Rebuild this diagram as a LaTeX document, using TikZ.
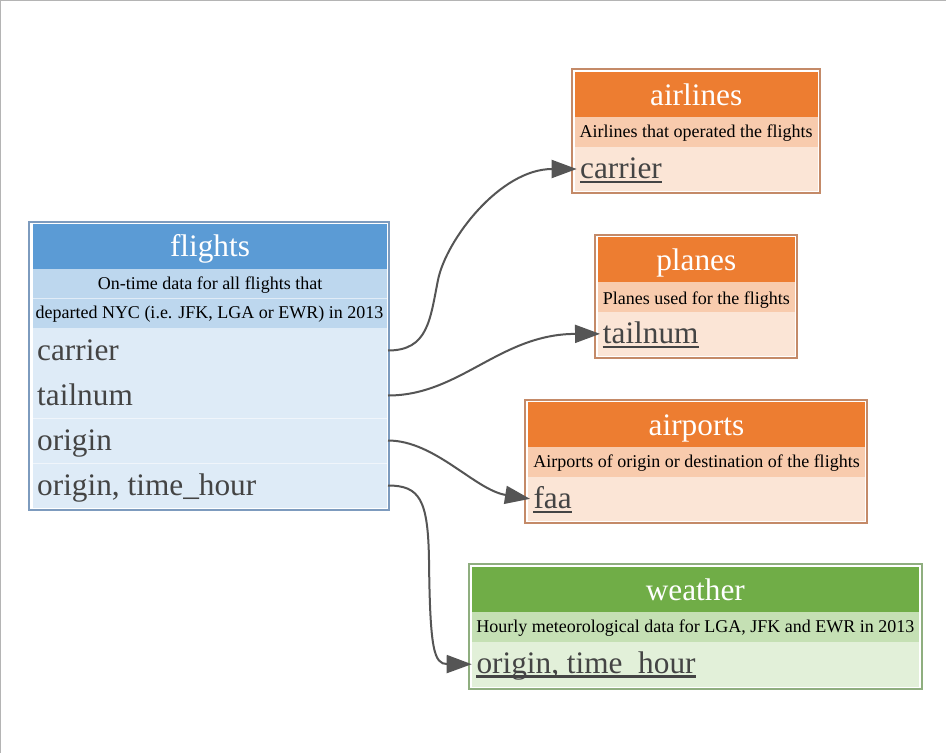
\documentclass[tikz,border=0pt]{standalone}
\usepackage{fontspec}
\setmainfont{Liberation Serif}
\usetikzlibrary{arrows.meta}
\definecolor{bluehead}{HTML}{5B9BD5}
\definecolor{bluedesc}{HTML}{BDD7EE}
\definecolor{bluefield}{HTML}{DEEBF7}
\definecolor{blueborder}{HTML}{7D9BBE}
\definecolor{orhead}{HTML}{ED7D31}
\definecolor{ordesc}{HTML}{F8CBAD}
\definecolor{orfield}{HTML}{FBE5D6}
\definecolor{orborder}{HTML}{C48A68}
\definecolor{grhead}{HTML}{70AD47}
\definecolor{grdesc}{HTML}{C5E0B4}
\definecolor{grfield}{HTML}{E2F0D9}
\definecolor{grborder}{HTML}{8FAE7F}
\definecolor{fieldtextcol}{HTML}{444444}
\definecolor{edgecol}{HTML}{555555}
\definecolor{framecol}{HTML}{B4B4B4}
\begin{document}
\begin{tikzpicture}[x=1pt,y=-1pt,
 cell/.style={inner sep=0pt, outer sep=0pt, anchor=north west, draw=none},
 tblbox/.style={cell, line width=2pt},
 titletext/.style={inner sep=0pt, anchor=base, text=white, font=\fontsize{31.3}{36}\selectfont},
 desctext/.style={inner sep=0pt, anchor=base, text=black, font=\fontsize{18}{21}\selectfont},
 fieldtext/.style={inner sep=0pt, anchor=base west, text=fieldtextcol, font=\fontsize{31.3}{36}\selectfont},
 keyline/.style={draw=fieldtextcol, line width=2.2pt},
 fk/.style={draw=edgecol, line width=2pt, -{Triangle[length=25pt,width=18pt]}},
 sepline/.style={draw=white, opacity=0.55, line width=1pt},
]
\useasboundingbox (0,0) rectangle (946,753);
\fill[white] (0,0) rectangle (946,753);
\draw[framecol, line width=1.2pt] (0.6,753) -- (0.6,0.6) -- (946,0.6);

% ---------- flights ----------
\node[tblbox, draw=blueborder, minimum width=359.5pt, minimum height=288.5pt] (fl) at (29,221.5) {};
\node[cell, fill=bluehead, minimum width=354pt, minimum height=45pt] (fl-h) at (33,224) {};
\node[cell, fill=bluedesc, minimum width=354pt, minimum height=29pt] (fl-d1) at (33,269) {};
\node[cell, fill=bluedesc, minimum width=354pt, minimum height=30pt] (fl-d2) at (33,298) {};
\node[cell, fill=bluefield, minimum width=354pt, minimum height=45pt] (fl-f1) at (33,328) {};
\node[cell, fill=bluefield, minimum width=354pt, minimum height=45pt] (fl-f2) at (33,373) {};
\node[cell, fill=bluefield, minimum width=354pt, minimum height=45pt] (fl-f3) at (33,418) {};
\node[cell, fill=bluefield, minimum width=354pt, minimum height=45pt] (fl-f4) at (33,463) {};
\draw[sepline] (33,298) -- (387,298);
\draw[sepline] (33,418) -- (387,418);
\draw[sepline] (33,463) -- (387,463);
\node[titletext] (fl-t) at (210,256) {flights};
\node[desctext] (fl-dt1) at (210,289.3) {On-time data for all flights that};
\node[desctext] (fl-dt2) at (209.5,318.3) {departed NYC (i.e. JFK, LGA or EWR) in 2013};
\node[fieldtext] (fl-t1) at (37,360.7) {carrier};
\node[fieldtext] (fl-t2) at (37,405.7) {tailnum};
\node[fieldtext] (fl-t3) at (37,450.7) {origin};
\node[fieldtext] (fl-t4) at (37,495.7) {origin, time\_hour};

% ---------- airlines ----------
\node[tblbox, draw=orborder, minimum width=247.6pt, minimum height=124pt] (al) at (572.2,69.2) {};
\node[cell, fill=orhead, minimum width=243pt, minimum height=45pt] (al-h) at (574.7,72.3) {};
\node[cell, fill=ordesc, minimum width=243pt, minimum height=30pt] (al-d) at (574.7,117.3) {};
\node[cell, fill=orfield, minimum width=243pt, minimum height=43.4pt] (al-f) at (574.7,147.3) {};
\node[titletext] (al-t) at (696.2,105.3) {airlines};
\node[desctext] (al-dt) at (696.2,137.3) {Airlines that operated the flights};
\node[fieldtext] (al-k) at (580,178.3) {carrier};
\draw[keyline] ([yshift=-3.5pt]al-k.base west) -- ([yshift=-3.5pt]al-k.base east);

% ---------- planes ----------
\node[tblbox, draw=orborder, minimum width=202.6pt, minimum height=123.6pt] (pl) at (594.7,234.7) {};
\node[cell, fill=orhead, minimum width=197.3pt, minimum height=45pt] (pl-h) at (597.7,237.3) {};
\node[cell, fill=ordesc, minimum width=197.3pt, minimum height=29.4pt] (pl-d) at (597.7,282.3) {};
\node[cell, fill=orfield, minimum width=197.3pt, minimum height=44.3pt] (pl-f) at (597.7,311.7) {};
\node[titletext] (pl-t) at (696.3,270) {planes};
\node[desctext] (pl-dt) at (696.3,304) {Planes used for the flights};
\node[fieldtext] (pl-k) at (602.7,343.3) {tailnum};
\draw[keyline] ([yshift=-3.5pt]pl-k.base west) -- ([yshift=-3.5pt]pl-k.base east);

% ---------- airports ----------
\node[tblbox, draw=orborder, minimum width=342.6pt, minimum height=123.6pt] (ap) at (524.7,399.7) {};
\node[cell, fill=orhead, minimum width=337pt, minimum height=45pt] (ap-h) at (528,402.3) {};
\node[cell, fill=ordesc, minimum width=337pt, minimum height=29.4pt] (ap-d) at (528,447.3) {};
\node[cell, fill=orfield, minimum width=337pt, minimum height=44.3pt] (ap-f) at (528,476.7) {};
\node[titletext] (ap-t) at (696.5,435.3) {airports};
\node[desctext] (ap-dt) at (696.5,467.7) {Airports of origin or destination of the flights};
\node[fieldtext] (ap-k) at (533.3,508.3) {faa};
\draw[keyline] ([yshift=-3.5pt]ap-k.base west) -- ([yshift=-3.5pt]ap-k.base east);

% ---------- weather ----------
\node[tblbox, draw=grborder, minimum width=452.7pt, minimum height=124.7pt] (we) at (468.8,563.8) {};
\node[cell, fill=grhead, minimum width=447.3pt, minimum height=45pt] (we-h) at (471.7,567.3) {};
\node[cell, fill=grdesc, minimum width=447.3pt, minimum height=29.4pt] (we-d) at (471.7,612.3) {};
\node[cell, fill=grfield, minimum width=447.3pt, minimum height=45pt] (we-f) at (471.7,641.7) {};
\node[titletext] (we-t) at (695.3,600.3) {weather};
\node[desctext] (we-dt) at (695.3,632.3) {Hourly meteorological data for LGA, JFK and EWR in 2013};
\node[fieldtext] (we-k) at (476.3,673) {origin, time\_hour};
\draw[keyline] ([yshift=-3.5pt]we-k.base west) -- ([yshift=-3.5pt]we-k.base east);

% ---------- connectors ----------
\draw[fk] ([xshift=1pt]fl-f1.east) .. controls (428,350.5) and (430,320) .. (438,280)
  .. controls (446,240) and (500,169) .. ([xshift=2pt]al-f.west);
\draw[fk] ([xshift=1pt]fl-f2.east) .. controls (460,395.5) and (500,334) .. ([xshift=2.3pt]pl-f.west);
\draw[fk] ([xshift=1pt]fl-f3.east) .. controls (435,440.5) and (475,490) .. ([xshift=2pt]ap-f.west);
\draw[fk] ([xshift=1pt]fl-f4.east) .. controls (420,485.5) and (428,500) .. (429,560)
  .. controls (430,650) and (434,664) .. (we-f.west);
\end{tikzpicture}
\end{document}
